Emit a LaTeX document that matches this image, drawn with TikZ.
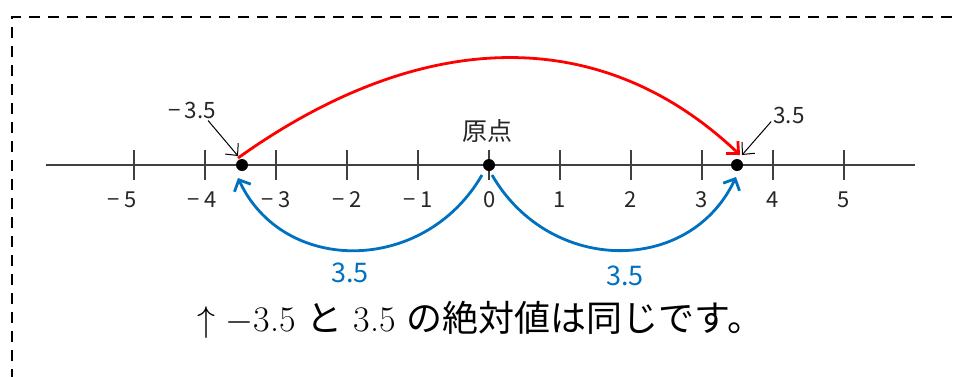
\RequirePackage{fix-cm}
\documentclass[tikz,border=0pt]{standalone}
\usepackage{fontspec}
\newfontfamily\jp{Noto Sans CJK JP}
\usetikzlibrary{arrows.meta}
\definecolor{axisgray}{HTML}{404040}
\definecolor{arcblue}{HTML}{0070C0}
\definecolor{arcred}{HTML}{FF0000}
\begin{document}
\begin{tikzpicture}[x=1pt,y=-1pt,
  dot/.style={circle,fill=black,inner sep=0pt,minimum size=12pt},
  ticklbl/.style={font=\jp\fontsize{22}{26}\selectfont,text=black!85,inner sep=0pt},
  annot/.style={font=\jp\fontsize{22.5}{26}\selectfont,text=black!85,inner sep=0pt},
  bluelbl/.style={font=\jp\fontsize{27}{30}\selectfont,text=arcblue,inner sep=0pt},
  tickmark/.style={draw=axisgray,line width=1.4pt},
  bluearc/.style={draw=arcblue,line width=2.8pt,-{Straight Barb[length=9pt,width=18pt]}},
  redarc/.style={draw=arcred,line width=2.8pt,-{Straight Barb[length=9pt,width=17pt]}},
  thinarrow/.style={draw=black,line width=1pt,-{Straight Barb[length=9pt,width=17pt]}},
  frame/.style={draw=black,line width=2.4pt,dash pattern=on 11pt off 8pt}]
\useasboundingbox (0,0) rectangle (955,376);
% frame (top and left only visible)
\draw[frame] (12,380) -- (12,17) -- (960,17);
% axis
\coordinate (axl) at (46,165);
\coordinate (axr) at (915,165);
\draw[draw=axisgray,line width=1.6pt] (axl) -- (axr);
\foreach \i/\dx/\lab in {-5/-12/{−\hspace{5pt}5},-4/-3/{−\hspace{5pt}4},-3/0/{−\hspace{5pt}3},-2/0/{−\hspace{5pt}2},-1/0/{−\hspace{5pt}1},0/1/0,1/0/1,2/0/2,3/0/3,4/0/4,5/0/5}{
  \draw[tickmark] (489+71*\i,150) -- (489+71*\i,180);
  \node[ticklbl] (t\i) at (489+71*\i+\dx,200) {\lab};
}
% points
\node[dot] (m) at (242,165) {};
\node[dot] (o) at (489,165) {};
\node[dot] (p) at (737,165) {};
% labels
\node[font=\jp\fontsize{25}{29}\selectfont,text=black!85,inner sep=0pt] (gen) at (487,131) {原点};
\node[annot] (lm) at (192,110) {−\hspace{4pt}3.5};
\node[annot] (lp) at (789,115) {3.5};
\node[bluelbl] (b1) at (350,273) {3.5};
\node[bluelbl] (b2) at (625,276) {3.5};
% red arc
\draw[redarc] ([shift={(-4,-7)}]m.center) .. controls (420,28) and (600,22) .. ([shift={(3,-10)}]p.center);
% blue arcs
\draw[bluearc] ([shift={(-7,10)}]o.center) .. controls (424,275) and (283,275) .. ([shift={(-4,13)}]m.center);
\draw[bluearc] ([shift={(3,10)}]o.center) .. controls (550,275) and (690,275) .. ([shift={(-1,12)}]p.center);
% annotation arrows
\draw[thinarrow] (lm.south east) ++(-8,2) coordinate (lma) (lma) -- ([shift={(-4,-9)}]m.center);
\draw[thinarrow] (lp.south west) ++(-2,-2) coordinate (lpa) (lpa) -- ([shift={(5,-10)}]p.center);
% bottom text
\node[font=\fontsize{36}{40}\selectfont,inner sep=0pt] (txt) at (480,320)
  {$\uparrow$ $-$3.5 {\jp と} 3.5 {\jp の絶対値は同じです。}};
\end{tikzpicture}
\end{document}
